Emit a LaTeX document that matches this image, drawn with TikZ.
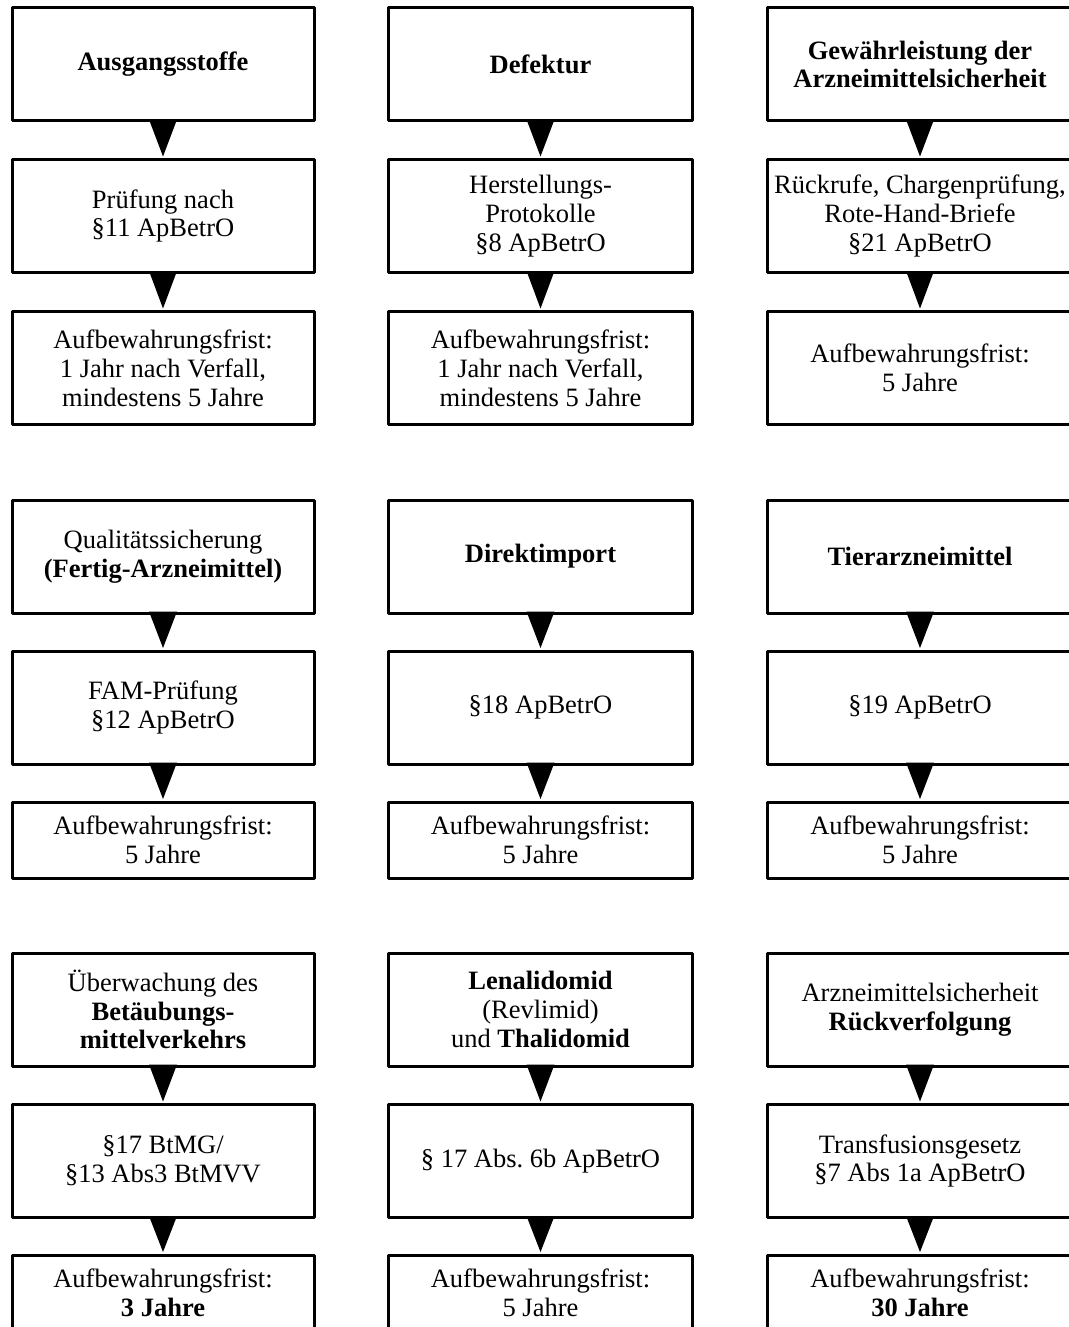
\documentclass[tikz,border=0pt]{standalone}
\usepackage{fontspec}
\setmainfont{Liberation Serif}
\frenchspacing
\begin{document}
\begin{tikzpicture}[x=1pt,y=-1pt,
  box/.style={draw, line width=3pt, line join=round, inner sep=0pt,
    align=center, font=\fontsize{26.5pt}{28.8pt}\selectfont},
  colA/.style={box, minimum width=302pt},
  colB/.style={box, minimum width=304pt},
  colC/.style={box, minimum width=306pt},
  tall/.style={minimum height=113pt},
  short/.style={minimum height=76pt},
  pointer/.style={fill=black}]
\useasboundingbox (0,0) rectangle (1068,1327);

% first row of chains
\node[colA,tall] (a11) at (163,64.5) {\bfseries Ausgangsstoffe};
\node[colA,tall] (a12) at (163,216) {Prüfung nach\\§11 ApBetrO};
\node[colA,tall] (a13) at (163,368) {Aufbewahrungsfrist:\\1 Jahr nach Verfall,\\mindestens 5 Jahre};

\node[colB,tall] (b11) at (540.5,64.5) {\bfseries Defektur};
\node[colB,tall] (b12) at (540.5,216) {Herstellungs-\\Protokolle\\§8 ApBetrO};
\node[colB,tall] (b13) at (540.5,368) {Aufbewahrungsfrist:\\1 Jahr nach Verfall,\\mindestens 5 Jahre};

\node[colC,tall] (c11) at (920,64.5) {\bfseries Gewährleistung der\\\bfseries Arzneimittelsicherheit};
\node[colC,tall] (c12) at (920,216) {Rückrufe, Chargenprüfung,\\Rote-Hand-Briefe\\§21 ApBetrO};
\node[colC,tall] (c13) at (920,368) {Aufbewahrungsfrist:\\5 Jahre};

% second row of chains
\node[colA,tall] (a21) at (163,556.5) {Qualitätssicherung\\\bfseries(Fertig-Arzneimittel)};
\node[colA,tall] (a22) at (163,707.5) {FAM-Prüfung\\§12 ApBetrO};
\node[colA,short] (a23) at (163,840) {Aufbewahrungsfrist:\\5 Jahre};

\node[colB,tall] (b21) at (540.5,556.5) {\bfseries Direktimport};
\node[colB,tall] (b22) at (540.5,707.5) {§18 ApBetrO};
\node[colB,short] (b23) at (540.5,840) {Aufbewahrungsfrist:\\5 Jahre};

\node[colC,tall] (c21) at (920,556.5) {\bfseries Tierarzneimittel};
\node[colC,tall] (c22) at (920,707.5) {§19 ApBetrO};
\node[colC,short] (c23) at (920,840) {Aufbewahrungsfrist:\\5 Jahre};

% third row of chains
\node[colA,tall] (a31) at (163,1009.5) {Überwachung des\\\bfseries Betäubungs-\\\bfseries mittelverkehrs};
\node[colA,tall] (a32) at (163,1161) {§17 BtMG/\\§13 Abs3 BtMVV};
\node[colA,short] (a33) at (163,1293) {Aufbewahrungsfrist:\\\bfseries 3 Jahre};

\node[colB,tall] (b31) at (540.5,1009.5) {\bfseries Lenalidomid\\(Revlimid)\\und \bfseries Thalidomid};
\node[colB,tall] (b32) at (540.5,1161) {§ 17 Abs. 6b ApBetrO};
\node[colB,short] (b33) at (540.5,1293) {Aufbewahrungsfrist:\\5 Jahre};

\node[colC,tall] (c31) at (920,1009.5) {Arzneimittelsicherheit\\\bfseries Rückverfolgung};
\node[colC,tall] (c32) at (920,1161) {Transfusionsgesetz\\§7 Abs 1a ApBetrO};
\node[colC,short] (c33) at (920,1293) {Aufbewahrungsfrist:\\\bfseries 30 Jahre};

% triangular pointers between consecutive boxes
\foreach \u/\v in {a11/a12,a12/a13,b11/b12,b12/b13,c11/c12,c12/c13,
                   a21/a22,a22/a23,b21/b22,b22/b23,c21/c22,c22/c23,
                   a31/a32,a32/a33,b31/b32,b32/b33,c31/c32,c32/c33}
  \fill[pointer] ([xshift=-14pt,yshift=3pt]\u.south) -- ([xshift=14pt,yshift=3pt]\u.south)
    -- ([yshift=1.5pt]\v.north) -- cycle;
\end{tikzpicture}
\end{document}
